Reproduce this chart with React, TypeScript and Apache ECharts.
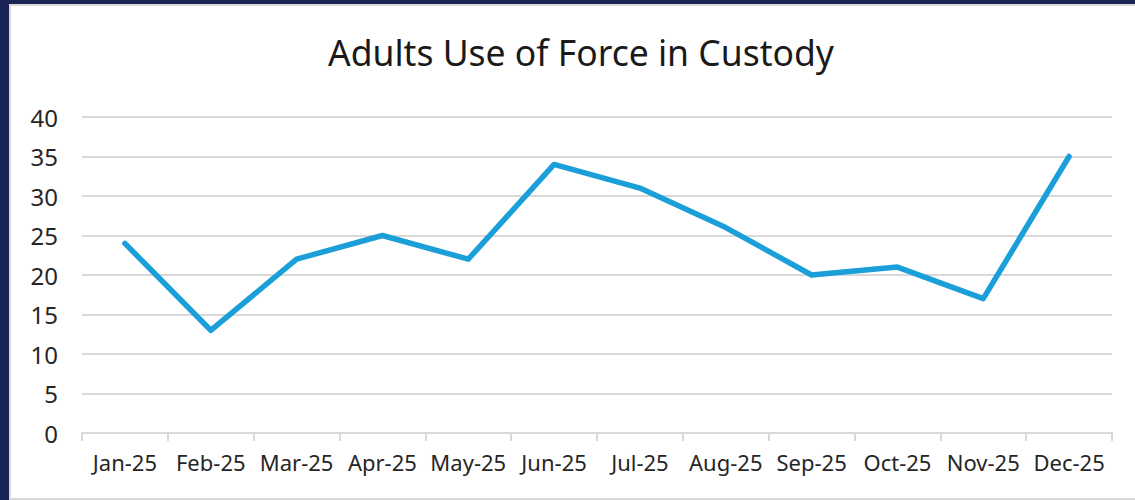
import React, { useEffect, useRef } from "react";
import * as echarts from "echarts";

const categories = ["Jan-25", "Feb-25", "Mar-25", "Apr-25", "May-25", "Jun-25", "Jul-25", "Aug-25", "Sep-25", "Oct-25", "Nov-25", "Dec-25"];
const values = [24, 13, 22, 25, 22, 34, 31, 26, 20, 21, 17, 35];
const title = "Adults Use of Force in Custody";

export default function App() {
  const ref = useRef<HTMLDivElement>(null);
  useEffect(() => {
    if (!ref.current) return;
    const chart = echarts.init(ref.current, undefined, { renderer: "svg" });
    const font = "Noto Sans";
    chart.setOption({
      animation: false,
      backgroundColor: "#1a2456",
      graphic: [
        {
          type: "rect",
          shape: { x: 10, y: 5, width: 1126, height: 494 },
          style: { fill: "#ffffff", stroke: "#d9d9d9", lineWidth: 2 },
          z: -10,
        },
      ],
      title: {
        text: title,
        left: 323,
        top: 29,
        textStyle: { fontFamily: font, fontSize: 35.5, fontWeight: "normal", color: "#1a1a1a" },
      },
      grid: { left: 82, right: 23, top: 117, bottom: 67, containLabel: false },
      xAxis: {
        type: "category",
        data: categories,
        boundaryGap: true,
        axisLine: { show: true, lineStyle: { color: "#d9d9d9", width: 2 } },
        axisTick: { show: true, length: 8, lineStyle: { color: "#d9d9d9", width: 2 } },
        axisLabel: { fontFamily: font, fontSize: 22, color: "#262626", margin: 18, interval: 0 },
      },
      yAxis: {
        type: "value",
        min: 0,
        max: 40,
        interval: 5,
        axisLine: { show: false },
        axisTick: { show: false },
        axisLabel: { fontFamily: font, fontSize: 24, color: "#262626", margin: 24 },
        splitLine: { lineStyle: { color: "#d9d9d9", width: 2 } },
      },
      series: [
        {
          type: "line",
          data: values,
          showSymbol: false,
          symbol: "none",
          lineStyle: { color: "#1b9fd8", width: 5.5, cap: "round", join: "round" },
        },
      ],
    });
    return () => chart.dispose();
  }, []);
  return <div ref={ref} style={{ position: "absolute", left: 0, top: 0, width: 1135, height: 500 }} />;
}
